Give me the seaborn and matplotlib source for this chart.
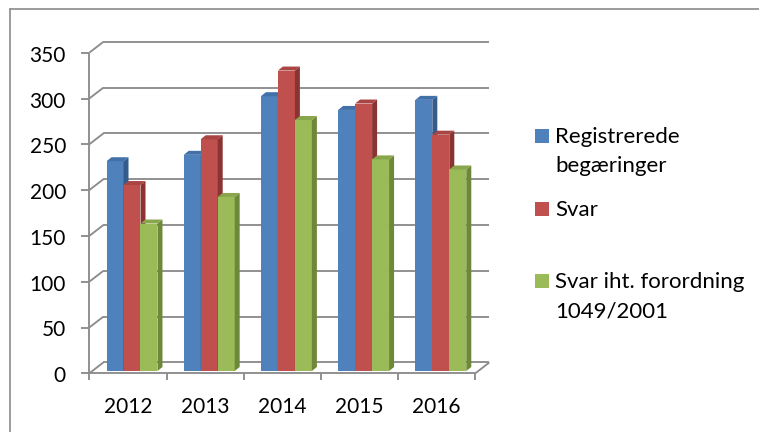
import matplotlib
matplotlib.use("Agg")
import matplotlib.pyplot as plt
import matplotlib.transforms as mtransforms
from matplotlib.patches import Polygon, Rectangle
from matplotlib.lines import Line2D
import seaborn as sns
import pandas as pd

# ---------------- data ----------------
years = ["2012", "2013", "2014", "2015", "2016"]
series = ["Registrerede\nbegæringer", "Svar", "Svar iht. forordning\n1049/2001"]
registrerede = [229, 236, 300, 285, 296]
svar = [203, 253, 328, 292, 258]
svar_iht = [161, 190, 274, 231, 220]
yticks = [0, 50, 100, 150, 200, 250, 300, 350]

front_colors = ["#4F81BD", "#C0504D", "#9BBB59"]
side_colors = ["#345B8C", "#8A3331", "#6D8838"]
top_colors = ["#4270A8", "#A94542", "#89A64C"]
grid_color = "#8C8C8C"

df = pd.DataFrame({
    "year": years * 3,
    "series": [series[0]] * 5 + [series[1]] * 5 + [series[2]] * 5,
    "value": registrerede + svar + svar_iht,
})

# ---------------- figure ----------------
W, H, DPI = 759, 432, 100
sns.set_theme(style="white")
plt.rcParams["font.family"] = ["Lato", "DejaVu Sans"]
fig = plt.figure(figsize=(W / DPI, H / DPI), dpi=DPI)
fig.patch.set_facecolor("white")

ax_left, ax_w = 93.4, 386.0
ax_base, ax_h = 371.0, 320.6
ax = fig.add_axes([ax_left / W, (H - ax_base) / H, ax_w / W, ax_h / H])

sns.barplot(data=df, x="year", y="value", hue="series", hue_order=series,
            order=years, palette=front_colors, saturation=1, width=0.66,
            dodge=True, legend=False, linewidth=0, ax=ax)
ax.set_xlim(-0.5, 4.5)
ax.set_ylim(0, 350)
ax.axis("off")

# pixel -> data unit conversions (from axes scale)
p0 = ax.transData.transform((0, 0))
p1 = ax.transData.transform((1, 1))
px_x = p1[0] - p0[0]
px_y = p1[1] - p0[1]
def dxu(px):
    return px / px_x
def dyu(px):
    return px / px_y

# depth offsets in pixels
bx, by = 9.9, 8.5      # back wall
fx, fy = -4.1, -2.3    # front edge
bdx, bdy = 5.0, 4.0    # bar depth

lkw = dict(color=grid_color, lw=1.35, clip_on=False, solid_capstyle="butt")
x0, x1 = -0.5, 4.5
# back wall gridlines & left side diagonals
for v in yticks:
    ax.add_line(Line2D([x0 + dxu(bx), x1 + dxu(bx)], [v + dyu(by)] * 2, zorder=1, **lkw))
    ax.add_line(Line2D([x0 + dxu(fx), x0 + dxu(bx)], [v + dyu(fy), v + dyu(by)], zorder=1, **lkw))
    # y tick mark
    ax.add_line(Line2D([x0 + dxu(fx) - dxu(8), x0 + dxu(fx)], [v + dyu(fy)] * 2, zorder=1, **lkw))
    ax.text(x0, v, str(v), ha="right", va="baseline", fontsize=15, color="black",
            transform=mtransforms.offset_copy(ax.transData, fig=fig, x=66 - ax_left,
                                              y=fy - 9, units="dots"))
# front y axis
ax.add_line(Line2D([x0 + dxu(fx)] * 2, [dyu(fy), yticks[-1] + dyu(fy)], zorder=1, **lkw))
# floor front line and right diagonal
ax.add_line(Line2D([x0 + dxu(fx), x1 + dxu(fx)], [dyu(fy)] * 2, zorder=1, **lkw))
ax.add_line(Line2D([x1 + dxu(fx), x1 + dxu(bx)], [dyu(fy), dyu(by)], zorder=1, **lkw))
# x tick marks
for k in range(len(years) + 1):
    xt = x0 + k + dxu(fx)
    ax.add_line(Line2D([xt, xt], [dyu(fy), dyu(fy) - dyu(7)], zorder=1, **lkw))
for k, yr in enumerate(years):
    ax.text(k, 0, yr, ha="center", va="baseline", fontsize=15, color="black",
            transform=mtransforms.offset_copy(ax.transData, fig=fig, x=fx,
                                              y=-42, units="dots"))

# 3D faces on bars
bars = list(ax.patches)
n = len(years)
order = sorted(range(len(bars)), key=lambda i: bars[i].get_x())
for rank, i in enumerate(order):
    p = bars[i]
    hue = i // n
    z = 3 + rank * 0.1
    p.set_zorder(z)
    xa = p.get_x()
    xb = xa + p.get_width()
    h = p.get_height()
    ddx, ddy = dxu(bdx), dyu(bdy)
    side = Polygon([(xb, 0), (xb + ddx, ddy), (xb + ddx, h + ddy), (xb, h)],
                   closed=True, facecolor=side_colors[hue], edgecolor="none",
                   zorder=z + 0.01, clip_on=False)
    top = Polygon([(xa, h), (xb, h), (xb + ddx, h + ddy), (xa + ddx, h + ddy)],
                  closed=True, facecolor=top_colors[hue], edgecolor="none",
                  zorder=z + 0.02, clip_on=False)
    ax.add_patch(side)
    ax.add_patch(top)

# legend (manual, matching the reference layout)
leg_first_baselines = [143, 216, 288]
line_gap = 29.5
for s, label in enumerate(series):
    base = leg_first_baselines[s]
    fig.add_artist(Rectangle((535 / W, (H - base) / H), 14 / W, 14 / H,
                             transform=fig.transFigure, facecolor=front_colors[s],
                             edgecolor="none"))
    for li, line in enumerate(label.split("\n")):
        fig.text(555 / W, (H - base - li * line_gap) / H, line, ha="left",
                 va="baseline", fontsize=16, color="black")

# outer chart border (top & left visible)
bkw = dict(transform=fig.transFigure, color="#8A8A8A", lw=1.2)
fig.add_artist(Line2D([10 / W, 1], [(H - 8.5) / H] * 2, **bkw))
fig.add_artist(Line2D([10 / W] * 2, [0, (H - 8.5) / H], **bkw))

fig.savefig("out.png", dpi=DPI, facecolor="white")
